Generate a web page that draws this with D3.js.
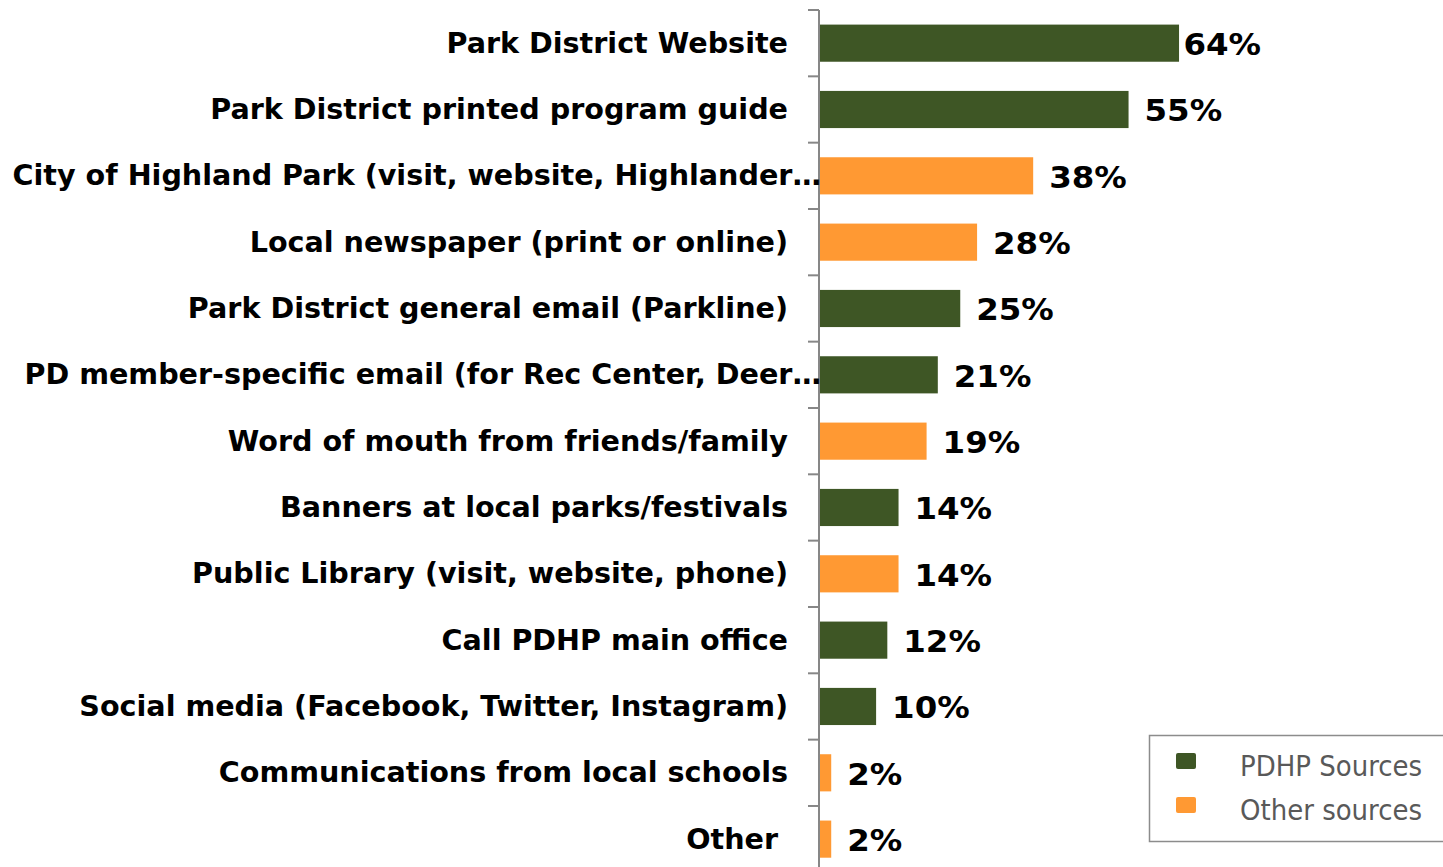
<!DOCTYPE html>
<html>
<head>
<meta charset="utf-8">
<script src="https://cdn.jsdelivr.net/npm/d3@7"></script>
<style>
  html, body { margin: 0; padding: 0; background: #fff; }
  svg { display: block; }
  text { white-space: pre; }
</style>
</head>
<body>
<svg id="chart" width="1443" height="867"></svg>
<script>
// Where respondents hear about Park District programs
const categories = [
  "Park District Website",
  "Park District printed program guide",
  "City of Highland Park (visit, website, Highlander…",
  "Local newspaper (print or online)",
  "Park District general email (Parkline)",
  "PD member-specific email (for Rec Center, Deer…",
  "Word of mouth from friends/family",
  "Banners at local parks/festivals",
  "Public Library (visit, website, phone)",
  "Call PDHP main office",
  "Social media (Facebook, Twitter, Instagram)",
  "Communications from local schools",
  "Other "
];
const values = [64, 55, 38, 28, 25, 21, 19, 14, 14, 12, 10, 2, 2];
const sourceType = ["PDHP", "PDHP", "Other", "Other", "PDHP", "PDHP", "Other",
                    "PDHP", "Other", "PDHP", "PDHP", "Other", "Other"];
const legendKeys = ["PDHP", "Other"];
const legendLabels = ["PDHP Sources", "Other sources"];

const color = d3.scaleOrdinal().domain(legendKeys).range(["#3E5625", "#FF9933"]);

const svg = d3.select("#chart");
const FONT = "'DejaVu Sans', Verdana, sans-serif";
const CAT_FS = 28.6;    // category label font size
const VAL_FS = 30;      // value label font size
const VAL_SX = 1.08;    // value labels use slightly wider digits
const LEG_FS = 28;
const LEG_SX = 0.93;

const axisX = 820;
const y = d3.scaleBand().domain(categories).range([10, 872.3]).padding(0);
const x = d3.scaleLinear().domain([0, 100]).range([axisX, axisX + 561]);
const barH = y.bandwidth() * 0.56;
const plotRight = 1261;

const rows = categories.map((c, i) => ({ c, v: values[i], t: sourceType[i] }));

// bars
svg.append("g").selectAll("rect").data(rows).join("rect")
  .attr("x", x(0))
  .attr("y", d => y(d.c) + (y.bandwidth() - barH) / 2)
  .attr("width", d => x(d.v) - x(0))
  .attr("height", barH)
  .attr("fill", d => color(d.t));

// category axis line and ticks
const axisG = svg.append("g");
axisG.append("line")
  .attr("x1", axisX - 1).attr("x2", axisX - 1)
  .attr("y1", y.range()[0]).attr("y2", y.range()[1])
  .attr("stroke", "#878787").attr("stroke-width", 2);
const tickYs = categories.map(c => y(c)).concat([y.range()[1]]);
axisG.selectAll("line.tick").data(tickYs).join("line")
  .attr("class", "tick")
  .attr("x1", axisX - 12).attr("x2", axisX - 1)
  .attr("y1", d => d).attr("y2", d => d)
  .attr("stroke", "#878787").attr("stroke-width", 2);

// category labels
svg.append("g").selectAll("text").data(rows).join("text")
  .attr("transform", d => {
    const truncated = d.c.endsWith("…");
    const tx = truncated ? axisX + 1 : axisX - 32;
    const ty = y(d.c) + y.bandwidth() / 2 + CAT_FS * 0.33;
    return `translate(${tx},${ty})`;
  })
  .attr("text-anchor", "end")
  .attr("font-family", FONT)
  .attr("font-weight", "bold")
  .attr("font-size", CAT_FS)
  .attr("fill", "#000")
  .text(d => d.c);

// value labels
svg.append("g").selectAll("text").data(rows).join("text")
  .attr("font-family", FONT)
  .attr("font-weight", "bold")
  .attr("font-size", VAL_FS)
  .attr("fill", "#000")
  .text(d => d.v + "%")
  .attr("transform", function(d) {
    const w = this.getComputedTextLength() * VAL_SX;
    const tx = Math.min(x(d.v) + 16, plotRight - w);
    const ty = y(d.c) + y.bandwidth() / 2 + VAL_FS * 0.4;
    return `translate(${tx},${ty}) scale(${VAL_SX},1)`;
  });

// legend
const lg = svg.append("g");
lg.append("rect")
  .attr("x", 1149.5).attr("y", 735.5).attr("width", 320).attr("height", 106)
  .attr("fill", "#fff").attr("stroke", "#8c8c8c").attr("stroke-width", 1.5);
legendKeys.forEach((k, i) => {
  const cy = 761 + i * 44;
  lg.append("rect")
    .attr("x", 1176).attr("y", cy - 8).attr("width", 20).attr("height", 16)
    .attr("rx", 2).attr("fill", color(k));
  lg.append("text")
    .attr("transform", `translate(1240,${cy + 15}) scale(${LEG_SX},1)`)
    .attr("font-family", FONT)
    .attr("font-size", LEG_FS)
    .attr("fill", "#595959")
    .text(legendLabels[i]);
});
</script>
</body>
</html>
